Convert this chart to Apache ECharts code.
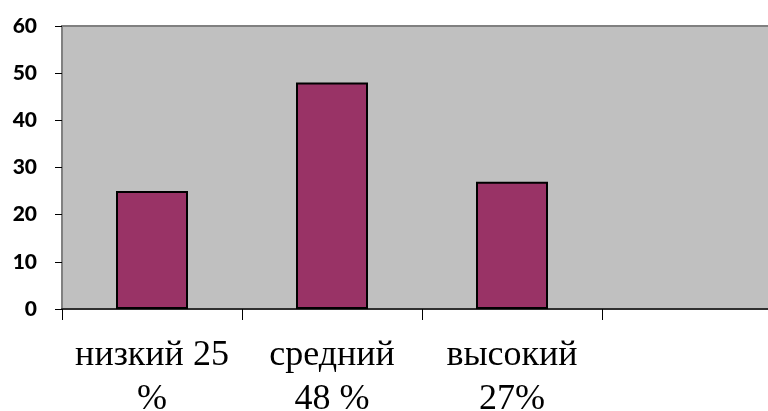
<!DOCTYPE html>
<html><head><meta charset="utf-8">
<script src="https://cdn.jsdelivr.net/npm/echarts@6/dist/echarts.min.js"></script>
<style>html,body{margin:0;padding:0;background:#fff}#c{width:768px;height:411px}</style>
</head><body><div id="c"></div>
<script>
const categories = ['низкий 25\n%', 'средний\n48 %', 'высокий\n27%', ''];
const values = [25, 48, 27, null];
const yMin = 0, yMax = 60, yStep = 10;

const chart = echarts.init(document.getElementById('c'));
chart.setOption({
  animation: false,
  grid: { left: 62, width: 720, top: 26, bottom: 102, outerBoundsMode: 'none', containLabel: false, show: true, backgroundColor: '#C0C0C0', borderColor: '#808080', borderWidth: 2 },
  xAxis: {
    type: 'category', data: categories,
    axisLine: { lineStyle: { color: '#303030', width: 2 } },
    axisTick: { show: true, length: 11, lineStyle: { color: '#000', width: 1 } },
    axisLabel: { fontFamily: 'Liberation Serif', fontSize: 36, color: '#000', lineHeight: 44, margin: 25, interval: 0 }
  },
  yAxis: {
    type: 'value', min: yMin, max: yMax, interval: yStep,
    axisLine: { show: true, lineStyle: { color: '#808080', width: 2 } },
    axisTick: { show: true, length: 7, lineStyle: { color: '#000' } },
    splitLine: { show: false },
    axisLabel: { fontFamily: 'Lato', fontWeight: 900, fontSize: 21, color: '#000', margin: 25 }
  },
  series: [{
    type: 'bar', data: values, barWidth: '40%',
    itemStyle: { color: '#993366', borderColor: '#000', borderWidth: 2 }
  }]
});
</script></body></html>
